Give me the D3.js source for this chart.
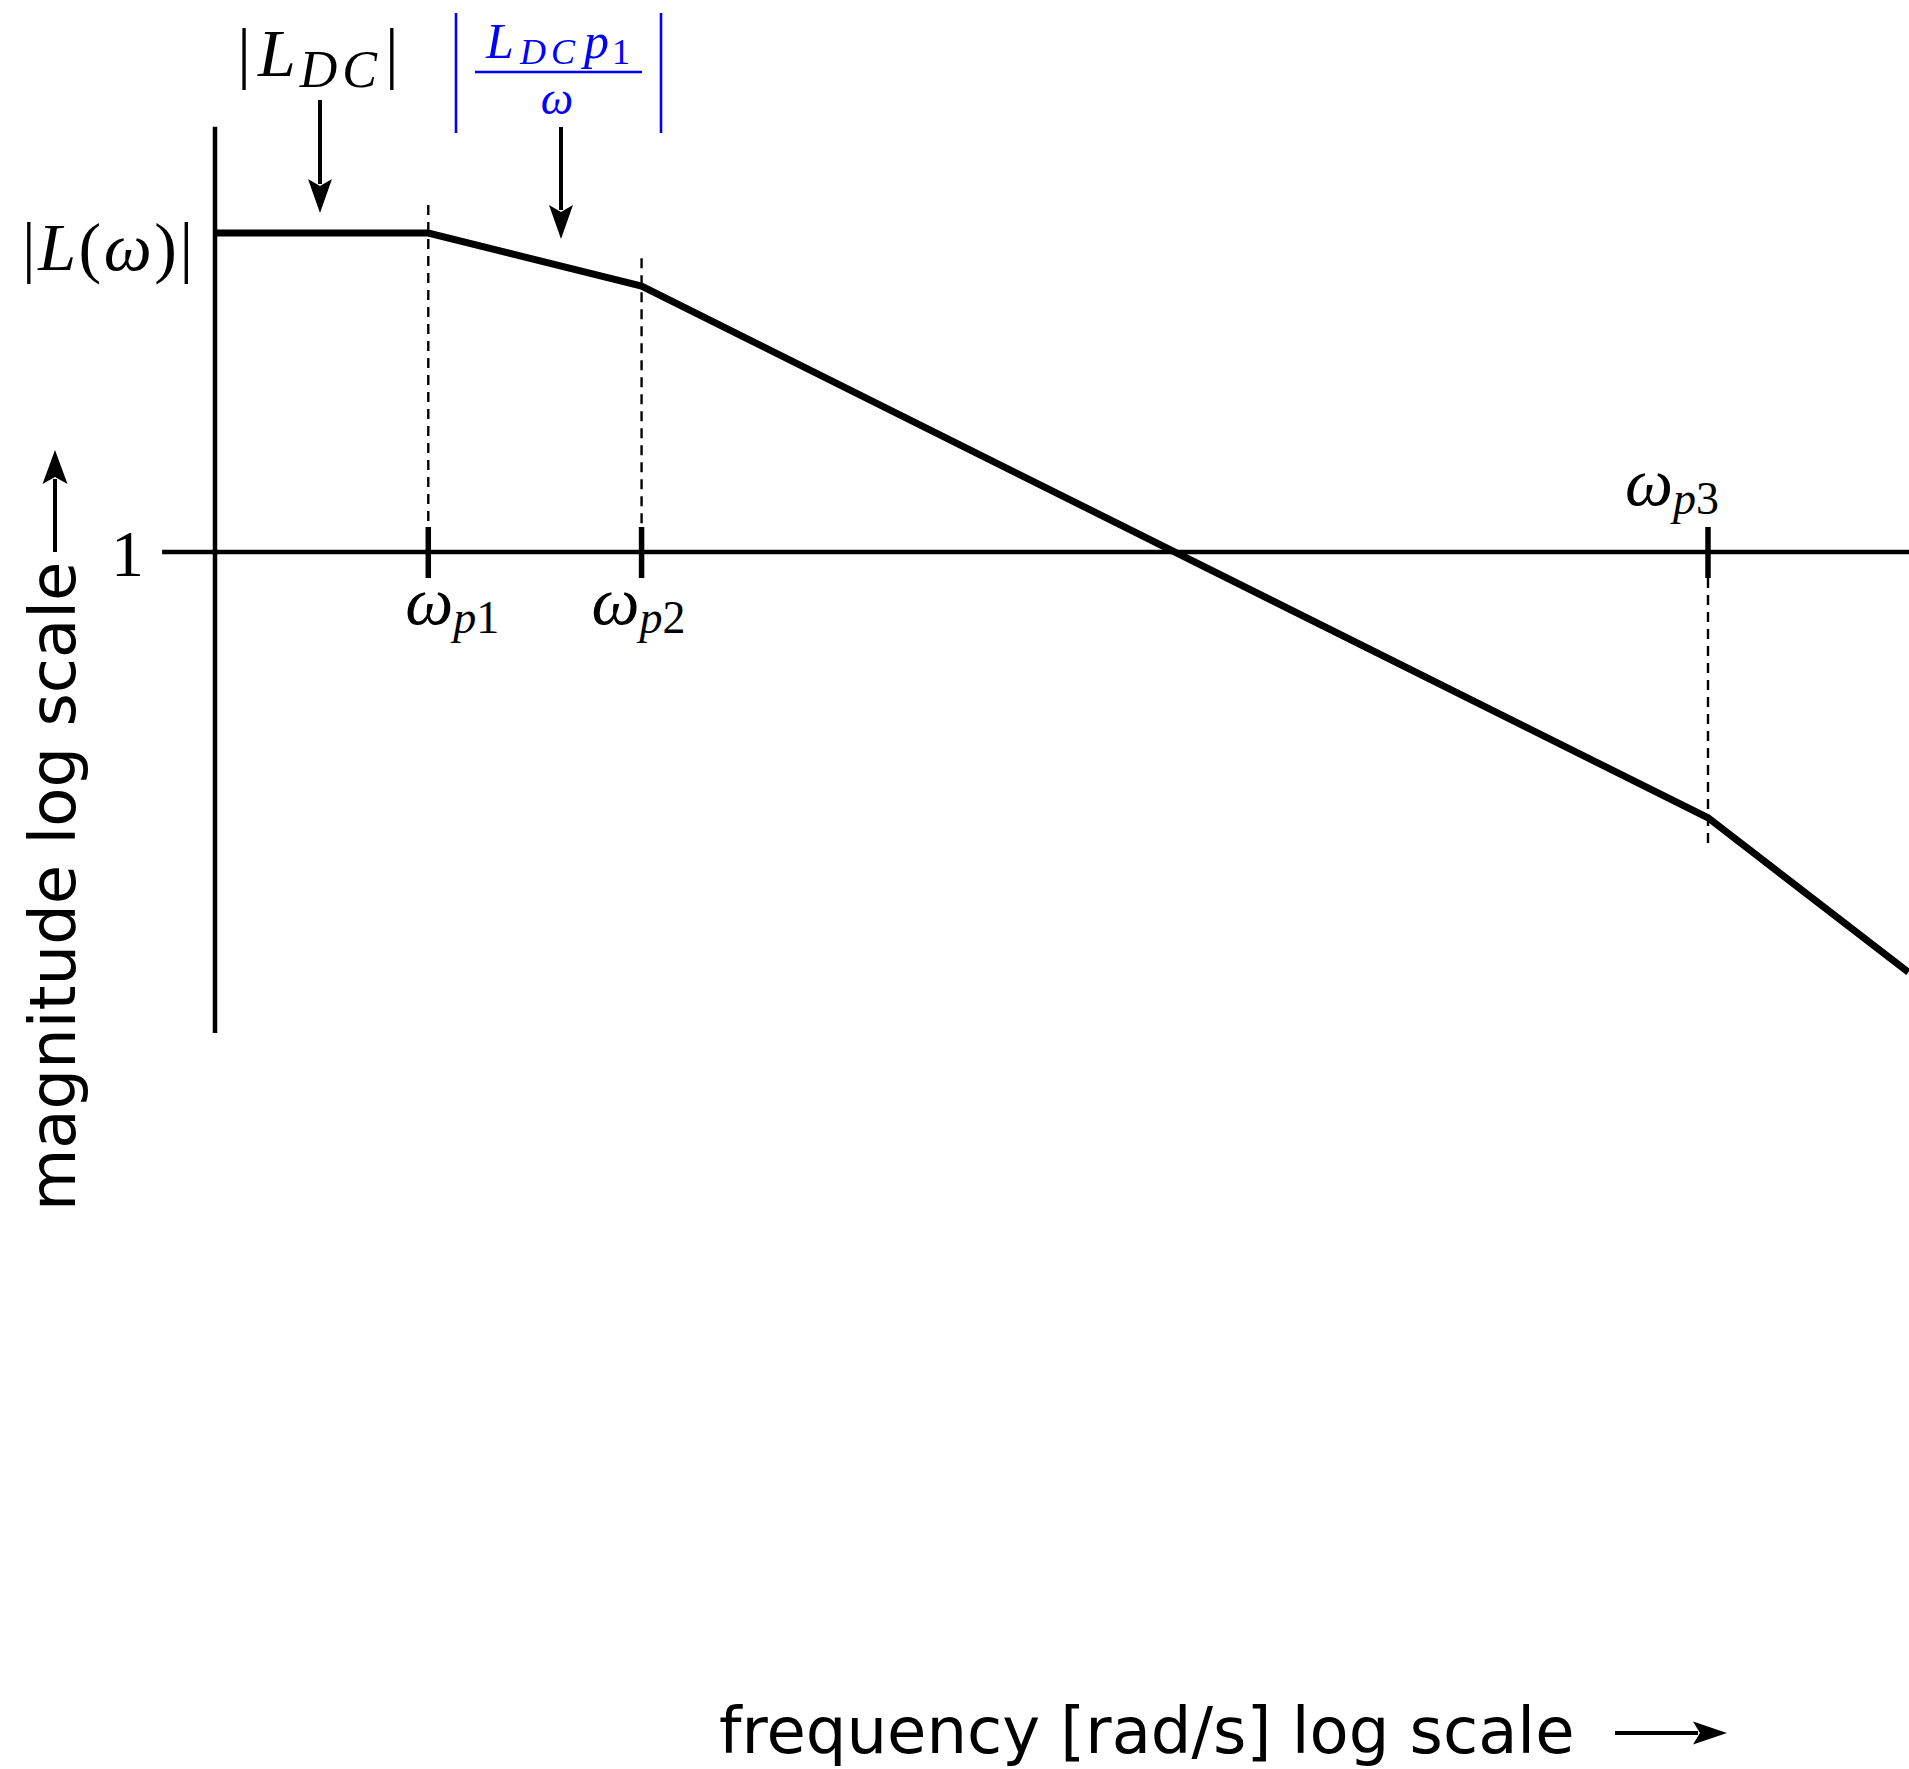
<!DOCTYPE html>
<html>
<head>
<meta charset="utf-8">
<script src="https://cdn.jsdelivr.net/npm/d3@7"></script>
<style>
  html, body { margin: 0; padding: 0; background: #fff; }
  svg { display: block; }
</style>
</head>
<body>
<script>
// ---------------- data ----------------
// asymptotic Bode magnitude curve (frequency in rad/s, magnitude linear)
const curveFreq = [1, 10, 100, 1e7, 8.7e7];
const curveMag  = [1e6, 1e6, 1e5, 1e-5, 1.25e-8];
// pole frequencies marked on the unity axis
const poleFreq   = [10, 100, 1e7];
const poleSub    = ["p1", "p2", "p3"];
const poleMagIdx = [1, 2, 3];
const unityMag = 1;
const unityLabel = "1";
const xAxisLabel = "frequency [rad/s] log scale";
const yAxisLabel = "magnitude log scale";
// axis extents (in data units)
const magAxisTop = 1e8, magAxisBottom = 9e-10;
const freqAxisLeft = 0.565, freqAxisRight = 1e9;

// ---------------- layout ----------------
const W = 1909, H = 1769;
const svg = d3.select("body").append("svg").attr("width", W).attr("height", H);
svg.append("rect").attr("width", W).attr("height", H).attr("fill", "#fff");

const x = d3.scaleLog().domain([1, 1e7]).range([215, 1708]);
const y = d3.scaleLog().domain([1, 1e6]).range([552, 233]);

const serif = "'Liberation Serif', 'Times New Roman', serif";
const sans = "'DejaVu Sans', sans-serif";

// arrow helper (filled head, slightly concave back)
function arrow(g, x1, y1, x2, y2, color, hl, hw, sw) {
  const ang = Math.atan2(y2 - y1, x2 - x1);
  const ux = Math.cos(ang), uy = Math.sin(ang);
  const px = -uy, py = ux;
  const bx = x2 - ux * hl, by = y2 - uy * hl;
  g.append("line").attr("x1", x1).attr("y1", y1)
    .attr("x2", bx + ux * 4).attr("y2", by + uy * 4)
    .attr("stroke", color).attr("stroke-width", sw);
  const p = d3.path();
  p.moveTo(x2, y2);
  p.lineTo(bx + px * hw / 2 - ux * 1, by + py * hw / 2 - uy * 1);
  p.lineTo(bx + ux * hl * 0.18, by + uy * hl * 0.18);
  p.lineTo(bx - px * hw / 2 - ux * 1, by - py * hw / 2 - uy * 1);
  p.closePath();
  g.append("path").attr("d", p.toString()).attr("fill", color);
}

// ---------------- axes ----------------
const axes = svg.append("g").attr("stroke", "#000").attr("fill", "none");
axes.append("line")
  .attr("x1", x(1)).attr("x2", x(1))
  .attr("y1", y(magAxisTop)).attr("y2", y(magAxisBottom))
  .attr("stroke-width", 4.5);
axes.append("line")
  .attr("x1", x(freqAxisLeft)).attr("x2", x(freqAxisRight))
  .attr("y1", y(unityMag)).attr("y2", y(unityMag))
  .attr("stroke-width", 4.5);

// tick marks at poles
axes.selectAll("line.tick").data(poleFreq).join("line")
  .attr("class", "tick")
  .attr("x1", d => x(d)).attr("x2", d => x(d))
  .attr("y1", y(unityMag) - 25).attr("y2", y(unityMag) + 26)
  .attr("stroke-width", 5.5);

// dashed guides from the tick to the curve breakpoint
const guides = svg.append("g").attr("stroke", "#000").attr("stroke-width", 2.4)
  .attr("stroke-dasharray", "10,7").attr("fill", "none");
poleFreq.forEach((f, i) => {
  const m = curveMag[poleMagIdx[i]];
  const ym = y(m), y0 = y(unityMag);
  if (ym < y0) {
    guides.append("line").attr("x1", x(f)).attr("x2", x(f))
      .attr("y1", ym - 28).attr("y2", y0 - 25);
  } else {
    guides.append("line").attr("x1", x(f)).attr("x2", x(f))
      .attr("y1", y0 + 26).attr("y2", ym + 28);
  }
});

// ---------------- curve ----------------
const pts = curveFreq.map((f, i) => ({ f, m: curveMag[i] }));
svg.append("path").datum(pts)
  .attr("d", d3.line().x(d => x(d.f)).y(d => y(d.m)))
  .attr("fill", "none").attr("stroke", "#000").attr("stroke-width", 7)
  .attr("stroke-linejoin", "miter");

// ---------------- math labels ----------------
// unity label
svg.append("text").attr("x", 111).attr("y", y(unityMag) + 24)
  .attr("font-family", serif).attr("font-size", 66).text(unityLabel);

// |L(ω)|
{
  const t = svg.append("text").attr("x", 22).attr("y", 270)
    .attr("font-family", serif).attr("font-size", 68)
    .attr("textLength", 171).attr("lengthAdjust", "spacing");
  t.append("tspan").text("|");
  t.append("tspan").attr("font-style", "italic").text("L");
  t.append("tspan").text("(");
  t.append("tspan").attr("font-style", "italic").text("ω");
  t.append("tspan").text(")|");
}

// pole labels
const labelDx = [-23, -50, -83];
const labelDy = [72, 72, -47];
poleFreq.forEach((f, i) => {
  const t = svg.append("text")
    .attr("x", x(f) + labelDx[i]).attr("y", y(unityMag) + labelDy[i])
    .attr("font-family", serif).attr("font-size", 68);
  t.append("tspan").attr("font-style", "italic").text("ω");
  t.append("tspan").attr("font-size", 46).attr("dy", 9).attr("font-style", "italic").text(poleSub[i][0]);
  t.append("tspan").attr("font-size", 46).text(poleSub[i].slice(1));
});

// |L_DC| annotation
{
  const t = svg.append("text").attr("x", 318).attr("y", 76)
    .attr("text-anchor", "middle")
    .attr("font-family", serif).attr("font-size", 68);
  t.append("tspan").text("|");
  t.append("tspan").attr("font-style", "italic").attr("dx", 7).text("L");
  t.append("tspan").attr("font-style", "italic").attr("font-size", 52).attr("dy", 11).attr("dx", 4)
    .attr("letter-spacing", 5).text("DC");
  t.append("tspan").attr("dy", -11).attr("dx", 3).text("|");
}
// arrow pointing at the flat segment
arrow(svg.append("g"), 320, 100, 320, y(curveMag[0]) - 20, "#000", 33, 24, 4);

// |L_DC p1 / ω| annotation (blue)
{
  const blue = "#0000ff";
  const g = svg.append("g");
  g.append("line").attr("x1", 456).attr("x2", 456).attr("y1", 13).attr("y2", 133)
    .attr("stroke", blue).attr("stroke-width", 2.6);
  g.append("line").attr("x1", 661).attr("x2", 661).attr("y1", 13).attr("y2", 133)
    .attr("stroke", blue).attr("stroke-width", 2.6);
  const num = g.append("text").attr("x", 558).attr("y", 58)
    .attr("text-anchor", "middle")
    .attr("font-family", serif).attr("font-size", 50).attr("fill", blue);
  num.append("tspan").attr("font-style", "italic").text("L");
  num.append("tspan").attr("font-style", "italic").attr("font-size", 36).attr("dy", 6).attr("dx", 6)
    .attr("letter-spacing", 5).text("DC");
  num.append("tspan").attr("font-style", "italic").attr("dy", -6).attr("dx", 4).text("p");
  num.append("tspan").attr("font-size", 36).attr("dy", 6).attr("dx", 3).text("1");
  g.append("line").attr("x1", 475).attr("x2", 642).attr("y1", 72).attr("y2", 72)
    .attr("stroke", blue).attr("stroke-width", 2.6);
  g.append("text").attr("x", 557).attr("y", 114).attr("text-anchor", "middle")
    .attr("font-family", serif).attr("font-size", 46).attr("font-style", "italic")
    .attr("fill", blue).text("ω");
  arrow(svg.append("g"), 561, 127, 561, 239, "#000", 33, 24, 4);
}

// ---------------- axis titles ----------------
svg.append("text").attr("x", 719).attr("y", 1753)
  .attr("font-family", sans).attr("font-size", 64).attr("fill", "#000")
  .text(xAxisLabel);
arrow(svg.append("g"), 1615, 1733, 1727, 1733, "#000", 33, 23, 4);

svg.append("text").attr("transform", "translate(75,1211) rotate(-90)")
  .attr("font-family", sans).attr("font-size", 64).attr("fill", "#000")
  .text(yAxisLabel);
arrow(svg.append("g"), 55, 552, 55, 450, "#000", 33, 25, 4);
</script>
</body>
</html>
